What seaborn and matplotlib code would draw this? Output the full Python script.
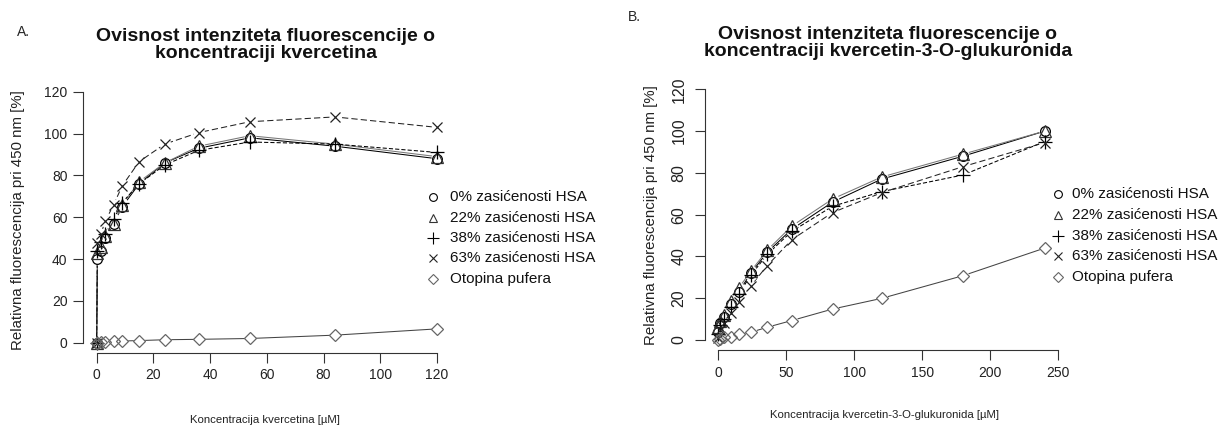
import numpy as np
import pandas as pd
import matplotlib
matplotlib.use("Agg")
import matplotlib.pyplot as plt
import seaborn as sns
from matplotlib.lines import Line2D

sns.set_theme(style="white")
plt.rcParams["font.family"] = ["Liberation Sans", "DejaVu Sans"]

W, H = 1223, 430

# ---------------- data ----------------
series_labels = ["0% zasićenosti HSA", "22% zasićenosti HSA", "38% zasićenosti HSA",
                 "63% zasićenosti HSA", "Otopina pufera"]

# Panel A: quercetin concentration [uM]
conc_a = [0, 0.3, 1.5, 3, 6, 9, 15, 24, 36, 54, 84, 120]
a_hsa0 = [0, 40, 44, 50, 57, 65, 76, 86, 93, 98, 94, 88]
a_hsa22 = [0, 43, 46, 51, 57, 66, 77, 86, 94, 99, 95, 89]
a_hsa38 = [0, 44, 48, 52, 59, 67, 76, 85, 92, 96, 95, 91]
a_hsa63 = [0, 47.6, 52, 58, 66, 75, 86.6, 95, 100.5, 105.7, 108, 103]
a_buffer = [0, 0, 0.2, 0.4, 0.6, 0.8, 1.0, 1.4, 1.6, 2.0, 3.6, 6.6]

# Panel B: quercetin-3-O-glucuronide concentration [uM]
conc_b = [0, 1.5, 4.5, 9, 15, 24, 36, 54, 84, 120, 180, 240]
b_hsa0 = [4, 8, 11, 17, 23, 32, 42, 53, 66, 77, 88, 100]
b_hsa22 = [6, 9, 12, 18.5, 24.8, 33, 43, 54.5, 67.5, 78, 89, 100]
b_hsa38 = [3, 7, 10, 16, 22, 31, 41, 52, 64, 71, 79, 95]
b_hsa63 = [1, 5, 8, 13, 18, 26, 35.6, 48, 61, 70.5, 83, 94.5]
b_buffer = [0, 0.5, 1.2, 1.6, 2.9, 3.7, 6.1, 9.3, 14.8, 19.9, 30.8, 44]

y_ticks = [0, 20, 40, 60, 80, 100, 120]
x_ticks_a = [0, 20, 40, 60, 80, 100, 120]
x_ticks_b = [0, 50, 100, 150, 200, 250]

titles = ["Ovisnost intenziteta fluorescencije o\nkoncentraciji kvercetina",
          "Ovisnost intenziteta fluorescencije o\nkoncentraciji kvercetin-3-O-glukuronida"]
xlabels = ["Koncentracija kvercetina [µM]", "Koncentracija kvercetin-3-O-glukuronida [µM]"]
ylabel = "Relativna fluorescencija pri 450 nm [%]"
panel_letters = ["A.", "B."]

# ---------------- styles ----------------
markers = ["o", "^", "+", "x", "D"]
msizes = [7, 8, 10, 7.5, 6.5]
mcolors = ["black", "#333333", "black", "#222222", "#666666"]
lcolors = ["black", "#777777", "black", "#222222", "#444444"]
lstyles = ["-", "-", (0, (4, 2)), (0, (6, 3)), "-"]

fig = plt.figure(figsize=(W / 100, H / 100), dpi=100)


def fx(x):
    return x / W


def fy(y):
    return 1 - y / H


ax_a = fig.add_axes([83 / W, (H - 352.7) / H, 367.7 / W, 270.9 / H])
ax_b = fig.add_axes([704.7 / W, (H - 350.0) / H, 367.2 / W, 270.7 / H])


def draw(ax, conc, ys):
    dfs = [pd.DataFrame({"x": conc, "y": y}) for y in ys]
    for i, d in enumerate(dfs):
        sns.lineplot(data=d, x="x", y="y", ax=ax, sort=False, estimator=None,
                     color=lcolors[i], linestyle=lstyles[i], linewidth=0.75, zorder=2)
    for d in dfs:
        sns.scatterplot(data=d, x="x", y="y", ax=ax, color="white", s=70,
                        linewidth=0, zorder=3, legend=False)
    for i, d in enumerate(dfs):
        sns.lineplot(data=d, x="x", y="y", ax=ax, sort=False, estimator=None,
                     linestyle="none", marker=markers[i], markersize=msizes[i],
                     markerfacecolor="none", markeredgecolor=mcolors[i],
                     markeredgewidth=0.9, zorder=4, clip_on=False)


draw(ax_a, conc_a, [a_hsa0, a_hsa22, a_hsa38, a_hsa63, a_buffer])
draw(ax_b, conc_b, [b_hsa0, b_hsa22, b_hsa38, b_hsa63, b_buffer])

for ax, xt, xmax in [(ax_a, x_ticks_a, 120), (ax_b, x_ticks_b, 250)]:
    pad = 0.04 * xmax
    ax.set_xlim(-pad, xmax + pad)
    ax.set_ylim(-4.8, 124.8)
    ax.set_xticks(xt)
    ax.set_yticks(y_ticks)
    ax.set_xlabel("")
    ax.set_ylabel("")
    ax.set_facecolor("white")
    for s in ["top", "right"]:
        ax.spines[s].set_visible(False)
    for s in ["left", "bottom"]:
        ax.spines[s].set_color("#333333")
        ax.spines[s].set_linewidth(0.8)
    ax.spines["bottom"].set_bounds(0, xmax)
    ax.spines["left"].set_bounds(0, 120)
    ax.tick_params(axis="both", direction="out", length=7.2, width=0.8,
                   color="#333333", bottom=True, left=True)
    ax.tick_params(axis="x", labelsize=10, pad=4, labelcolor="#222222")
    ax.grid(False)

ax_a.tick_params(axis="y", labelsize=10, pad=4, labelcolor="#222222")
ax_b.tick_params(axis="y", labelsize=11.5, pad=6, labelrotation=90, labelcolor="#222222")
for lab in ax_b.get_yticklabels():
    lab.set_va("center")

# titles, labels, letters
fig.text(fx(266), fy(45), titles[0], ha="center", va="center", fontsize=14,
         fontweight="bold", linespacing=1.05, color="#111111")
fig.text(fx(888), fy(43), titles[1], ha="center", va="center", fontsize=14,
         fontweight="bold", linespacing=1.05, color="#111111")
fig.text(fx(17), fy(32), panel_letters[0], ha="left", va="center", fontsize=10)
fig.text(fx(628), fy(17), panel_letters[1], ha="left", va="center", fontsize=10)
fig.text(fx(265), fy(420), xlabels[0], ha="center", va="center", fontsize=8.2, color="#222222")
fig.text(fx(884), fy(415), xlabels[1], ha="center", va="center", fontsize=8.2, color="#222222")
fig.text(fx(18), fy(220), ylabel, ha="center", va="center", rotation=90, fontsize=10.8, color="#222222")
fig.text(fx(651), fy(215), ylabel, ha="center", va="center", rotation=90, fontsize=10.8, color="#222222")

# legends
leg_rows_a = [197, 218, 238, 258, 279]
leg_rows_b = [194, 215, 236, 256, 277]
for (mx, tx, rows) in [(433, 450, leg_rows_a), (1058, 1072, leg_rows_b)]:
    for i, lab in enumerate(series_labels):
        fig.add_artist(Line2D([fx(mx)], [fy(rows[i])], transform=fig.transFigure,
                              linestyle="none", marker=markers[i], markersize=msizes[i] * 0.8,
                              markerfacecolor="none", markeredgecolor=mcolors[i],
                              markeredgewidth=0.8))
        fig.text(fx(tx), fy(rows[i]), lab, ha="left", va="center", fontsize=11, color="#111111")

fig.savefig("out.png", dpi=100, facecolor="white")
